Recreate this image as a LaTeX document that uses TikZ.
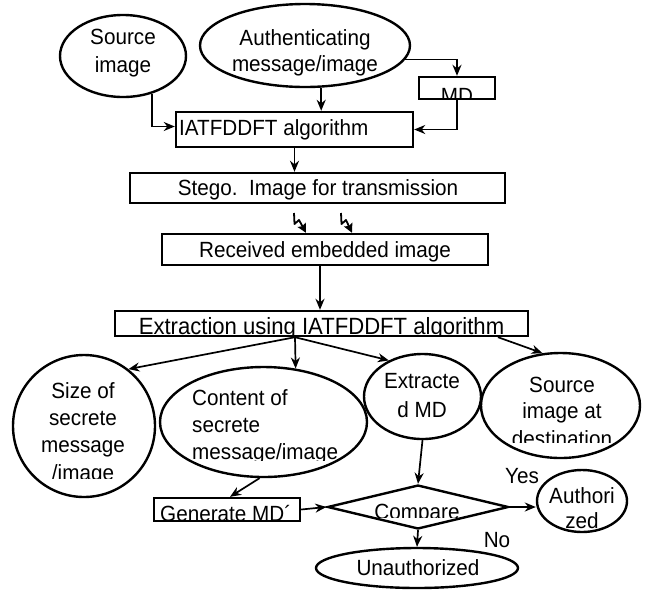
\documentclass[tikz,border=0pt]{standalone}
\usepackage{fontspec}
\setmainfont{Liberation Sans}[FakeStretch=0.94]
\usetikzlibrary{shapes.geometric,arrows.meta}
\begin{document}
\begin{tikzpicture}[x=1pt,y=-1pt,
  shp/.style={draw=black,line width=2.4pt,inner sep=0pt},
  oval/.style={shp,ellipse},
  boxn/.style={shp,rectangle},
  txt/.style={inner sep=0pt,font=\fontsize{22}{27}\selectfont,anchor=base},
  txtl/.style={txt,anchor=base west},
  arr/.style={line width=1.7pt,-{Stealth[length=11pt,width=9pt,inset=3.5pt]}},
  sarr/.style={line width=1.8pt,line join=round,-{Stealth[length=9pt,width=9pt,inset=1.5pt]}}]
\useasboundingbox (0,0) rectangle (650,590);

% shapes
\node[oval,minimum width=126pt,minimum height=82pt] (src) at (123,56) {};
\node[oval,minimum width=210pt,minimum height=83pt] (auth) at (305,45.5) {};
\node[boxn,minimum width=76pt,minimum height=22pt] (md) at (457,88) {};
\node[boxn,minimum width=237pt,minimum height=35pt] (iatf) at (294.5,129.5) {};
\node[boxn,minimum width=375pt,minimum height=30pt] (stego) at (317.5,188) {};
\node[boxn,minimum width=326pt,minimum height=31pt] (recv) at (325,249.5) {};
\node[boxn,minimum width=413pt,minimum height=25pt] (ext) at (321.5,323.5) {};
\node[oval,minimum width=142pt,minimum height=142pt] (size) at (84,426) {};
\node[oval,minimum width=207pt,minimum height=110pt] (cont) at (263.5,422) {};
\node[oval,minimum width=117pt,minimum height=85pt] (emd) at (422.5,396.5) {};
\node[oval,minimum width=159pt,minimum height=105pt] (sdst) at (560.5,405.5) {};
\node[boxn,minimum width=146pt,minimum height=23pt] (gen) at (227,509.5) {};
\node[shp,diamond,minimum width=181pt,minimum height=44pt] (cmp) at (418,507) {};
\node[oval,minimum width=90pt,minimum height=62pt] (authz) at (582,501) {};
\node[oval,minimum width=202pt,minimum height=40pt] (unauth) at (417,568) {};

% texts
\node[txt] (src-t1) at (123,44) {Source};
\node[txt] (src-t2) at (123,72) {image};
\node[txt] (auth-t1) at (305,45) {Authenticating};
\node[txt] (auth-t2) at (305,71) {message/image};
\begin{scope}
  \clip (420,78) rectangle (494,98.5);
  \node[txt] (md-t) at (457,103) {MD};
\end{scope}
\node[txtl] (iatf-t) at (179,135) {IATFDDFT algorithm};
\node[txt] (stego-t) at (318,195) {Stego.\ \ Image for transmission};
\node[txt] (recv-t) at (325,257) {Received embedded image};
\begin{scope}
  \clip (116,312) rectangle (527,334);
  \node[txt,font=\fontsize{23.5}{27}\selectfont] (ext-t) at (321.5,334) {Extraction using IATFDDFT algorithm};
\end{scope}
\begin{scope}
  \clip (10,350) rectangle (160,478);
  \node[txt] (size-t1) at (83,398) {Size of};
  \node[txt] (size-t2) at (83,425) {secrete};
  \node[txt] (size-t3) at (83,452) {message};
  \node[txt] (size-t4) at (83,480) {/image};
\end{scope}
\begin{scope}
  \clip (160,365) rectangle (370,460);
  \node[txtl] (cont-t1) at (192,405) {Content of};
  \node[txtl] (cont-t2) at (192,432) {secrete};
  \node[txtl] (cont-t3) at (192,459) {message/image};
\end{scope}
\node[txt] (emd-t1) at (422,388.5) {Extracte};
\node[txt] (emd-t2) at (422,417) {d MD};
\begin{scope}
  \clip (480,350) rectangle (642,442);
  \node[txt] (sdst-t1) at (562,392) {Source};
  \node[txt] (sdst-t2) at (562,418) {image at};
  \node[txt] (sdst-t3) at (562,446) {destination};
\end{scope}
\begin{scope}
  \clip (155,499) rectangle (299,519.5);
  \node[txtl] (gen-t) at (160,521) {Generate MD´};
\end{scope}
\begin{scope}
  \clip (330,486) rectangle (506,517.5);
  \node[txt] (cmp-t) at (417,519) {Compare};
\end{scope}
\node[txt] (authz-t1) at (582,503) {Authori};
\node[txt] (authz-t2) at (582,528) {zed};
\node[txt] (yes) at (522,483) {Yes};
\node[txt] (no) at (497,547) {No};
\node[txt] (unauth-t) at (418,575) {Unauthorized};

% connectors
\draw[arr] (src.-52) |- ([yshift=3pt]iatf.west);
\draw[arr] (auth.-69) -- (auth.-69 |- iatf.north);
\draw[arr] (auth.-8) -| (md.north);
\draw[arr] (md.south) |- (iatf.east);
\draw[arr] (iatf.south) -- (iatf.south |- stego.north);

\coordinate (sq1) at (294,213);
\coordinate (sq2) at (341,213);
\draw[sarr] (sq1) -- ++(0.5,11) -- ++(4.5,-4) -- ([xshift=-19pt]recv.north);
\draw[sarr] (sq2) -- ++(0.5,11) -- ++(4.5,-4) -- ([xshift=27pt]recv.north);

\draw[arr] ([xshift=-5pt]recv.south) -- ([xshift=-5pt]recv.south |- ext.north);

\coordinate (o1) at ([xshift=-26.5pt]ext.south);
\coordinate (o2) at ([xshift=176.5pt]ext.south);
\draw[arr] (o1) -- (size.52);
\draw[arr] (o1) -- (cont.59);
\draw[arr] (o1) -- (emd.133);
\draw[arr] (o2) -- (sdst.109);

\draw[arr] (cont.-94) -- ([xshift=3pt]gen.north);
\draw[arr] (gen.east) -- (cmp.west);
\draw[arr] (emd.south) -- (cmp.north);
\draw[arr] (cmp.east) -- (cmp.east -| authz.west);
\draw[arr] (cmp.south) -- (unauth.north);
\end{tikzpicture}
\end{document}
